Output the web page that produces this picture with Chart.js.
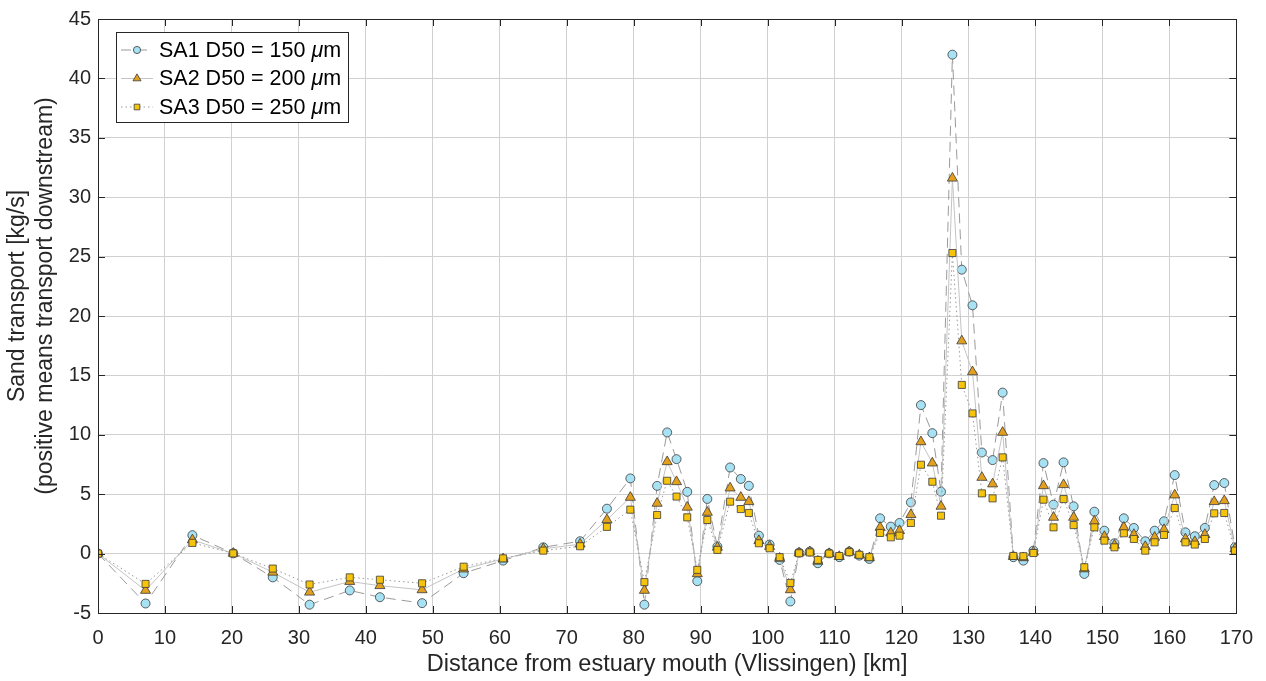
<!DOCTYPE html>
<html>
<head>
<meta charset="utf-8">
<script src="https://cdn.jsdelivr.net/npm/chart.js@4.4.0/dist/chart.umd.min.js"></script>
<style>
  html, body { margin: 0; padding: 0; background: #fff; }
</style>
</head>
<body>
<canvas id="sandChart" width="1266" height="681"></canvas>
<script>
// distance along the estuary [km]
var km = [0, 7.1, 14.1, 20.2, 26.1, 31.6, 37.6, 42.1, 48.4, 54.6, 60.5, 66.5, 72.0, 76.0, 79.5,
  81.6, 83.5, 85.0, 86.4, 88.0, 89.5, 91.0, 92.5, 94.4, 96.0, 97.2, 98.7, 100.3, 101.8, 103.4,
  104.7, 106.3, 107.5, 109.2, 110.7, 112.2, 113.7, 115.2, 116.8, 118.4, 119.7, 121.4, 122.9, 124.6,
  125.9, 127.6, 129.0, 130.6, 132.0, 133.6, 135.1, 136.7, 138.2, 139.7, 141.2, 142.7, 144.2, 145.7,
  147.3, 148.8, 150.3, 151.8, 153.2, 154.7, 156.4, 157.8, 159.2, 160.8, 162.4, 163.8, 165.3, 166.7,
  168.2, 169.8];

// sand transport [kg/s]
var sa1 = [0, -4.2, 1.55, 0.02, -2.0, -4.3, -3.1, -3.67, -4.17, -1.65, -0.59, 0.53, 1.04, 3.78, 6.33,
  -4.3, 5.7, 10.2, 7.95, 5.2, -2.32, 4.6, 0.59, 7.25, 6.28, 5.71, 1.51, 0.76, -0.53, -4.03,
  0.08, 0.17, -0.81, 0.02, -0.3, 0.17, -0.17, -0.45, 2.97, 2.27, 2.58, 4.31, 12.5, 10.14,
  5.21, 42.0, 23.9, 20.9, 8.51, 7.87, 13.55, -0.3, -0.59, 0.25, 7.62, 4.12, 7.68, 3.98,
  -1.71, 3.53, 1.93, 0.87, 2.97, 2.16, 1.04, 1.93, 2.72, 6.61, 1.79, 1.46, 2.16, 5.77,
  5.94, 0.53];
var sa2 = [0, -3.1, 1.15, 0.02, -1.57, -3.25, -2.35, -2.7, -3.05, -1.3, -0.45, 0.4, 0.8, 2.85, 4.73,
  -3.1, 4.23, 7.73, 6.05, 3.9, -1.7, 3.47, 0.53, 5.52, 4.73, 4.37, 1.09, 0.6, -0.4, -3.05,
  0.05, 0.15, -0.65, 0.0, -0.25, 0.15, -0.12, -0.35, 2.2, 1.74, 1.93, 3.28, 9.41, 7.62,
  3.98, 31.6, 17.9, 15.3, 6.41, 5.86, 10.2, -0.25, -0.35, 0.12, 5.71, 3.05, 5.8, 3.05,
  -1.29, 2.72, 1.43, 0.7, 2.21, 1.6, 0.59, 1.37, 2.02, 4.93, 1.23, 1.0, 1.6, 4.37,
  4.45, 0.4];
var sa3 = [0, -2.55, 0.9, 0.02, -1.26, -2.6, -2.0, -2.2, -2.5, -1.1, -0.4, 0.25, 0.62, 2.25, 3.7,
  -2.4, 3.25, 6.13, 4.8, 3.05, -1.37, 2.83, 0.31, 4.37, 3.75, 3.42, 0.87, 0.45, -0.3, -2.47,
  0.03, 0.1, -0.53, 0.0, -0.2, 0.12, -0.1, -0.3, 1.74, 1.37, 1.51, 2.58, 7.48, 6.05,
  3.19, 25.3, 14.2, 11.8, 5.07, 4.65, 8.1, -0.2, -0.22, 0.05, 4.54, 2.21, 4.59, 2.4,
  -1.15, 2.21, 1.09, 0.53, 1.71, 1.23, 0.25, 0.95, 1.57, 3.84, 0.95, 0.76, 1.23, 3.39,
  3.42, 0.25];

var seriesNames = ['SA1 D50 = 150 ', 'SA2 D50 = 200 ', 'SA3 D50 = 250 '];
var xTitle = 'Distance from estuary mouth (Vlissingen) [km]';
var yTitle = ['Sand transport [kg/s]', '(positive means transport downstream)'];

function toPoints(vals) {
    return vals.map(function (v, i) { return { x: km[i], y: v }; });
}

var FONT = "'Liberation Sans', Arial, sans-serif";

// MATLAB look: box, inward ticks, axis labels and legend inside the axes
var matlabAxes = {
    id: 'matlabAxes',
    afterDatasetsDraw: function (chart) {
        var ctx = chart.ctx, a = chart.chartArea;
        var xs = chart.scales.x, ys = chart.scales.y;
        ctx.save();
        ctx.strokeStyle = '#262626';
        ctx.lineWidth = 1;
        ctx.beginPath();
        xs.ticks.forEach(function (t) {
            var px = Math.round(xs.getPixelForValue(t.value)) + 0.5;
            ctx.moveTo(px, a.bottom); ctx.lineTo(px, a.bottom - 7);
            ctx.moveTo(px, a.top); ctx.lineTo(px, a.top + 7);
        });
        ys.ticks.forEach(function (t) {
            var py = Math.round(ys.getPixelForValue(t.value)) + 0.5;
            ctx.moveTo(a.left, py); ctx.lineTo(a.left + 7, py);
            ctx.moveTo(a.right, py); ctx.lineTo(a.right - 7, py);
        });
        ctx.stroke();
        ctx.strokeRect(Math.round(a.left) + 0.5, Math.round(a.top) + 0.5,
            Math.round(a.right - a.left), Math.round(a.bottom - a.top));

        // axis titles
        ctx.fillStyle = '#262626';
        ctx.textAlign = 'center';
        ctx.textBaseline = 'alphabetic';
        ctx.font = '23.5px ' + FONT;
        ctx.fillText(xTitle, (a.left + a.right) / 2, 671);
        ctx.font = '23px ' + FONT;
        [24, 52].forEach(function (bx, i) {
            ctx.save();
            ctx.translate(bx, 296);
            ctx.rotate(-Math.PI / 2);
            ctx.fillText(yTitle[i], 0, 0);
            ctx.restore();
        });

        // legend
        var bx = 116, by = 32, bw = 232, bh = 90;
        ctx.fillStyle = '#fff';
        ctx.fillRect(bx, by, bw, bh);
        ctx.strokeStyle = '#262626';
        ctx.strokeRect(bx + 0.5, by + 0.5, bw, bh);
        chart.data.datasets.forEach(function (ds, i) {
            var y = 50 + i * 28.5;
            ctx.beginPath();
            ctx.setLineDash(ds.borderDash || []);
            ctx.strokeStyle = ds.borderColor;
            ctx.lineWidth = ds.borderWidth;
            ctx.moveTo(121, y); ctx.lineTo(153, y);
            ctx.stroke();
            ctx.setLineDash([]);
            ctx.fillStyle = ds.pointBackgroundColor;
            ctx.strokeStyle = ds.pointBorderColor;
            ctx.lineWidth = ds.pointBorderWidth;
            Chart.helpers.drawPoint(ctx, {
                pointStyle: ds.pointStyle, radius: ds.pointRadius * 0.8,
                rotation: 0, borderWidth: ds.pointBorderWidth
            }, 137, y);
            ctx.fillStyle = '#000';
            ctx.textBaseline = 'middle';
            ctx.textAlign = 'left';
            ctx.font = '21.5px ' + FONT;
            var txt = seriesNames[i];
            ctx.fillText(txt, 159, y + 1);
            var w = ctx.measureText(txt).width;
            ctx.font = 'italic 21.5px ' + FONT;
            ctx.fillText('\u03bc', 159 + w, y + 1);
            var w2 = ctx.measureText('\u03bc').width;
            ctx.font = '21.5px ' + FONT;
            ctx.fillText('m', 159 + w + w2, y + 1);
        });
        ctx.restore();
    }
};

new Chart(document.getElementById('sandChart').getContext('2d'), {
    type: 'line',
    data: {
        datasets: [{
            label: 'SA1 D50 = 150 \u03bcm',
            data: toPoints(sa1),
            borderColor: '#9a9a9a',
            borderWidth: 1,
            borderDash: [10, 6],
            pointStyle: 'circle',
            pointRadius: 4.5,
            pointBackgroundColor: '#a6e1f4',
            pointBorderColor: '#3a3a3a',
            pointBorderWidth: 0.8,
            tension: 0,
            order: 3
        }, {
            label: 'SA2 D50 = 200 \u03bcm',
            data: toPoints(sa2),
            borderColor: '#c4c4c4',
            borderWidth: 1,
            borderDash: [],
            pointStyle: 'triangle',
            pointRadius: 5.8,
            pointBackgroundColor: '#e3a01c',
            pointBorderColor: '#3a3a3a',
            pointBorderWidth: 0.8,
            tension: 0,
            order: 2
        }, {
            label: 'SA3 D50 = 250 \u03bcm',
            data: toPoints(sa3),
            borderColor: '#9a9a9a',
            borderWidth: 1,
            borderDash: [1.5, 3],
            pointStyle: 'rect',
            pointRadius: 5,
            pointBackgroundColor: '#f6c40c',
            pointBorderColor: '#3a3a3a',
            pointBorderWidth: 0.8,
            tension: 0,
            order: 1
        }]
    },
    options: {
        responsive: false,
        animation: false,
        layout: { padding: { left: 0, right: 28, top: 17, bottom: 0 } },
        plugins: {
            legend: { display: false },
            tooltip: { enabled: false }
        },
        scales: {
            x: {
                type: 'linear',
                min: 0,
                max: 170,
                afterFit: function (s) { s.height = 68; },
                ticks: {
                    stepSize: 10,
                    color: '#262626',
                    padding: 13,
                    maxRotation: 0,
                    font: { family: FONT, size: 20 }
                },
                grid: { color: '#d0d0d0', drawTicks: false },
                border: { display: false }
            },
            y: {
                min: -5,
                max: 45,
                afterFit: function (s) { s.width = 98; },
                ticks: {
                    stepSize: 5,
                    color: '#262626',
                    padding: 7,
                    font: { family: FONT, size: 20 }
                },
                grid: { color: '#d0d0d0', drawTicks: false },
                border: { display: false }
            }
        }
    },
    plugins: [matlabAxes]
});
</script>
</body>
</html>
